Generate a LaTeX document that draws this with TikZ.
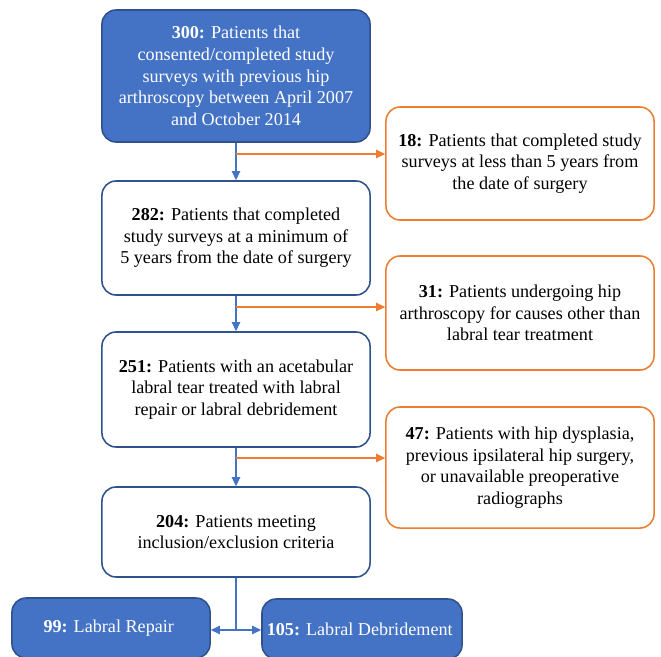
\documentclass[tikz,border=0pt]{standalone}
\usepackage{fontspec}
\setmainfont{Liberation Serif}
\usepackage{xcolor}
\definecolor{officeblue}{RGB}{68, 114, 196}
\definecolor{darkblue}{RGB}{47, 82, 143}
\definecolor{officeorange}{RGB}{237, 125, 49}
\usetikzlibrary{arrows.meta, positioning, calc}

\begin{document}
\begin{tikzpicture}[
    x=0.025cm, y=-0.025cm,
    every node/.style={font=\fontsize{12.9}{15.4}\selectfont, align=center},
    stage/.style={draw=#1, line width=1.1pt, rounded corners=10pt, fill=white,
                  minimum width=6.7cm, inner sep=2pt},
    cohort/.style={draw=darkblue, line width=1.1pt, rounded corners=10pt, fill=officeblue,
                   text=white, inner sep=2pt},
    flow/.style={draw=#1, line width=0.8pt, -{Triangle[width=6pt, length=6.5pt]}},
    flowline/.style={draw=officeblue, line width=0.8pt}
]
    \clip (0,0) rectangle (661,656);
    \fill[white] (0,0) rectangle (661,656);

    \node[cohort, minimum width=6.7cm, minimum height=3.3cm] (all) at (236,76) {
        \textbf{300:} Patients that\\
        consented/completed study\\
        surveys with previous hip\\
        arthroscopy between April 2007\\
        and October 2014
    };

    \node[stage=officeorange, minimum height=2.825cm] (short) at (520,163.5) {
        \textbf{18:} Patients that completed study\\
        surveys at less than 5 years from\\
        the date of surgery
    };

    \node[stage=darkblue, minimum height=2.85cm] (fiveyr) at (236,238) {
        \textbf{282:} Patients that completed\\
        study surveys at a minimum of\\
        5 years from the date of surgery
    };

    \node[stage=officeorange, minimum height=2.85cm] (other) at (520,313) {
        \textbf{31:} Patients undergoing hip\\
        arthroscopy for causes other than\\
        labral tear treatment
    };

    \node[stage=darkblue, minimum height=2.875cm] (labral) at (236,389.5) {
        \textbf{251:} Patients with an acetabular\\
        labral tear treated with labral\\
        repair or labral debridement
    };

    \node[stage=officeorange, minimum height=3.025cm] (dysplasia) at (520,467.5) {
        \textbf{47:} Patients with hip dysplasia,\\
        previous ipsilateral hip surgery,\\
        or unavailable preoperative\\
        radiographs
    };

    \node[stage=darkblue, minimum height=2.25cm] (criteria) at (236,532) {
        \textbf{204:} Patients meeting\\
        inclusion/exclusion criteria
    };

    \node[cohort, minimum width=4.95cm, minimum height=1.5cm] (repair) at (111,628) {
        \textbf{99:} Labral Repair
    };

    \node[cohort, minimum width=5cm, minimum height=1.5cm] (debride) at (362,629) {
        \textbf{105:} Labral Debridement
    };

    \coordinate (cut1) at (236,154);
    \coordinate (cut2) at (236,307);
    \coordinate (cut3) at (236,458);
    \coordinate (split) at (236,630);

    \draw[flow=officeblue] (all) -- (fiveyr);
    \draw[flow=officeblue] (fiveyr) -- (labral);
    \draw[flow=officeblue] (labral) -- (criteria);

    \draw[flow=officeorange] (cut1) -- (cut1 -| short.west);
    \draw[flow=officeorange] (cut2) -- (cut2 -| other.west);
    \draw[flow=officeorange] (cut3) -- (cut3 -| dysplasia.west);

    \draw[flowline] (criteria) -- (split);
    \draw[flow=officeblue] (split) -- (split -| repair.east);
    \draw[flow=officeblue] (split) -- (split -| debride.west);
\end{tikzpicture}
\end{document}
